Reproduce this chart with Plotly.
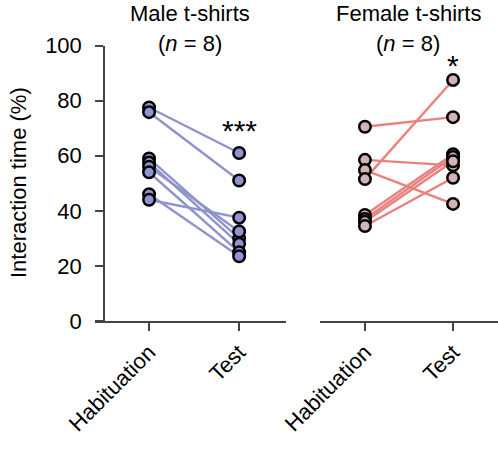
import plotly.graph_objects as go

conditions = ["Habituation", "Test"]
male_habituation = [77.5, 75.8, 59.0, 57.5, 56.0, 54.0, 46.0, 44.0]
male_test = [61.0, 51.0, 30.0, 28.0, 32.5, 25.0, 23.5, 37.5]
female_habituation = [70.5, 58.5, 54.8, 51.5, 38.5, 37.0, 36.0, 34.5]
female_test = [74.0, 56.5, 42.5, 87.5, 60.5, 59.5, 58.0, 52.0]
y_ticks = [0, 20, 40, 60, 80, 100]

FONT = "Liberation Sans, Arial, Helvetica, sans-serif"
FS = 22
male_line = "#8f93cc"
male_fill = "#8f94d2"
female_line = "#e8827f"
female_fill = "#d3b3b3"

W, H = 498, 450
fig = go.Figure()

def add_panel(hab, test, xa, lc, fc):
    for h, t in zip(hab, test):
        fig.add_trace(go.Scatter(x=conditions, y=[h, t], mode="lines",
                                 line=dict(color=lc, width=2.4),
                                 xaxis=xa, yaxis="y", showlegend=False,
                                 hoverinfo="skip"))
    xs = [conditions[0]] * len(hab) + [conditions[1]] * len(test)
    ys = list(hab) + list(test)
    fig.add_trace(go.Scatter(x=xs, y=ys, mode="markers",
                             marker=dict(size=11.5, color=fc,
                                         line=dict(color="black", width=2.5)),
                             xaxis=xa, yaxis="y", showlegend=False,
                             cliponaxis=False))

add_panel(male_habituation, male_test, "x", male_line, male_fill)
add_panel(female_habituation, female_test, "x2", female_line, female_fill)

ybot = 1 - 321 / H
ytop = 1 - 45.5 / H

axis_common = dict(
    type="category", automargin=False,
    showgrid=False, zeroline=False,
    showline=True, linecolor="#444", linewidth=1.5,
    ticks="outside", ticklen=8, tickwidth=1.5, tickcolor="#444",
    tickangle=-45,
    tickfont=dict(family=FONT, size=FS, color="black"),
)

fig.update_layout(
    width=W, height=H,
    margin=dict(l=0, r=0, t=0, b=0, autoexpand=False),
    paper_bgcolor="white", plot_bgcolor="white",
    font=dict(family=FONT, color="black"),
    xaxis=dict(domain=[95 / W, 286 / W], range=[-0.6, 1.52], anchor="y",
               **axis_common),
    xaxis2=dict(domain=[320 / W, 1.0], range=[-0.51, 1.51], anchor="y",
                **axis_common),
    yaxis=dict(domain=[ybot, ytop], range=[0, 100], anchor="free",
               position=104 / W, automargin=False,
               tickvals=y_ticks, ticktext=[str(v) for v in y_ticks],
               showgrid=False, zeroline=False,
               showline=True, linecolor="#444", linewidth=1.5,
               ticks="outside", ticklen=8, tickwidth=1.5, tickcolor="#444",
               ticklabelstandoff=9,
               tickfont=dict(family=FONT, size=FS, color="black")),
)

annotations = [
    dict(text="Male t-shirts", x=190 / W, y=1 - 14 / H),
    dict(text="(<i>n</i> = 8)", x=190 / W, y=1 - 44 / H),
    dict(text="Female t-shirts", x=408 / W, y=1 - 14 / H),
    dict(text="(<i>n</i> = 8)", x=408 / W, y=1 - 44 / H),
]
for a in annotations:
    fig.add_annotation(xref="paper", yref="paper", showarrow=False,
                       xanchor="center", yanchor="middle",
                       font=dict(family=FONT, size=FS, color="black"), **a)

fig.add_annotation(xref="paper", yref="paper", x=18 / W, y=1 - 183 / H,
                   text="Interaction time (%)", textangle=-90,
                   showarrow=False, xanchor="center", yanchor="middle",
                   font=dict(family=FONT, size=FS, color="black"))

fig.add_annotation(x="Test", y=62.5, xref="x", yref="y", text="***",
                   showarrow=False, yanchor="bottom",
                   font=dict(family=FONT, size=30, color="black"))
fig.add_annotation(x="Test", y=86, xref="x2", yref="y", text="*",
                   showarrow=False, yanchor="bottom",
                   font=dict(family=FONT, size=30, color="black"))

fig.write_html("out.html")
